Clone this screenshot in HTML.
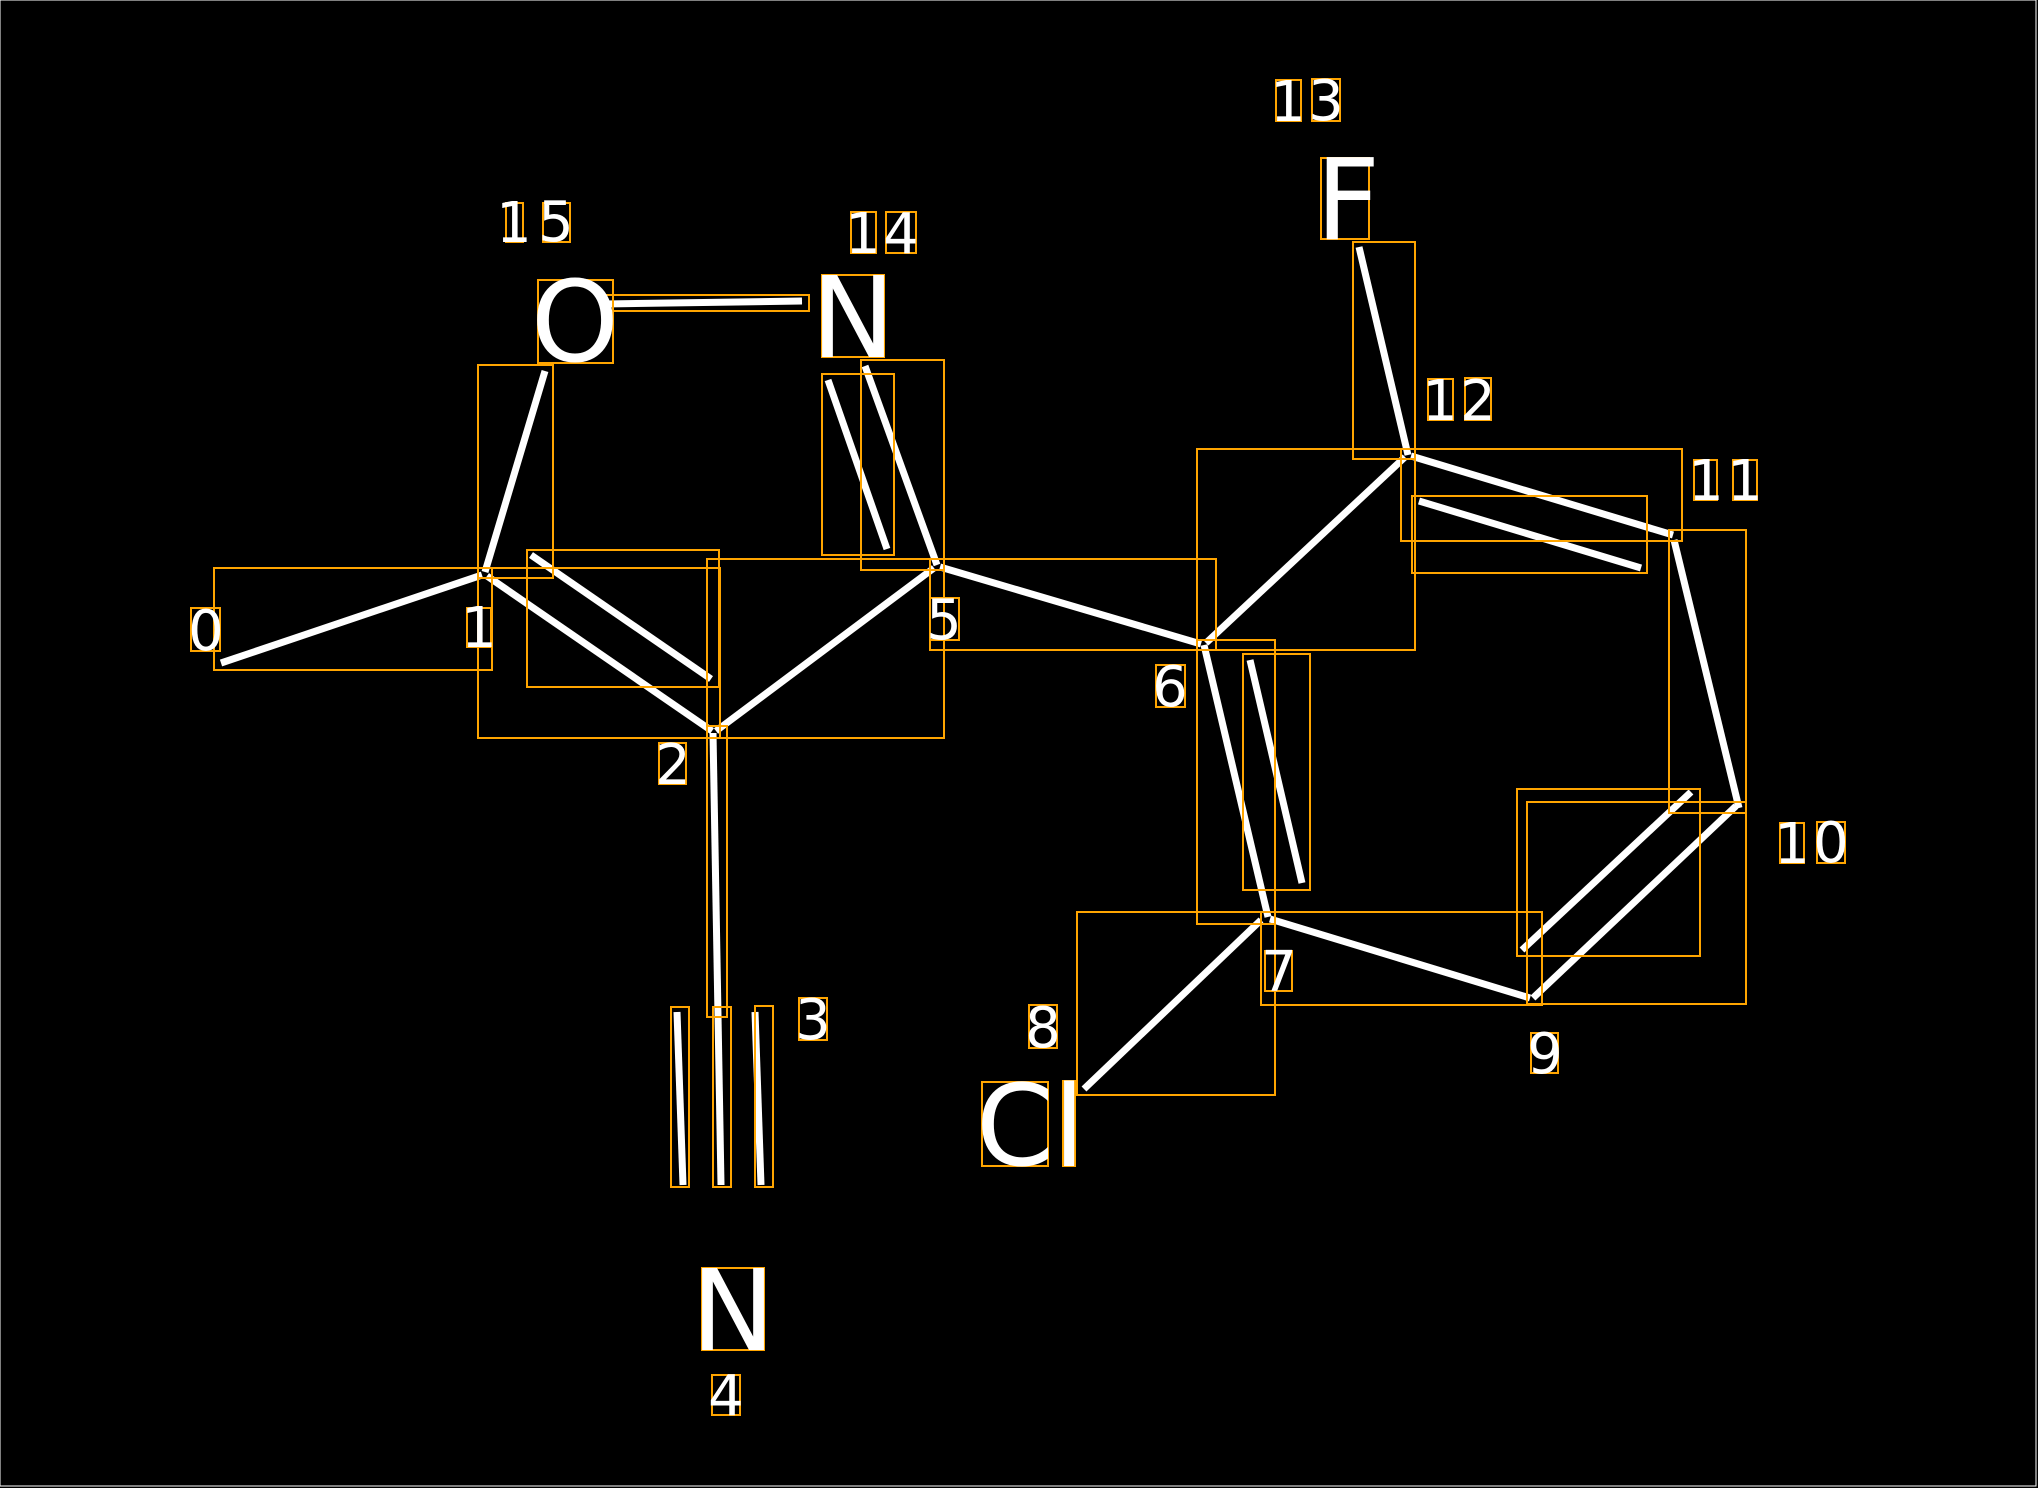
<!DOCTYPE html>
<html><head><meta charset="utf-8"><style>
html,body{margin:0;padding:0;background:#000;}
svg{display:block;}
text{font-family:"DejaVu Sans","Liberation Sans",sans-serif;fill:#fff;text-anchor:middle;}
.b{stroke:#fff;stroke-width:7;fill:none;}
.r{stroke:#FFA500;stroke-width:2;fill:none;}
</style></head><body>
<svg width="2038" height="1488" viewBox="0 0 2038 1488" xmlns="http://www.w3.org/2000/svg">
<rect x="0" y="0" width="2036" height="1486" fill="#000" stroke="#fff" stroke-width="1"/>
<!-- bonds -->
<g class="b">
<line x1="221" y1="663" x2="482" y2="575"/>
<line x1="485" y1="572" x2="545" y2="371"/>
<line x1="487" y1="576" x2="712" y2="731"/>
<line x1="531" y1="555" x2="711" y2="679"/>
<line x1="716" y1="731" x2="934" y2="568"/>
<line x1="605" y1="304" x2="802" y2="301"/>
<line x1="865" y1="366" x2="937" y2="565"/>
<line x1="828" y1="380" x2="887" y2="549"/>
<line x1="713" y1="733" x2="721" y2="1185"/>
<line x1="677" y1="1012" x2="683" y2="1185"/>
<line x1="755" y1="1012" x2="761" y2="1185"/>
<line x1="940" y1="567" x2="1201" y2="644"/>
<line x1="1206" y1="643" x2="1405" y2="457"/>
<line x1="1359" y1="247" x2="1408" y2="455"/>
<line x1="1411" y1="456" x2="1673" y2="535"/>
<line x1="1419" y1="501" x2="1641" y2="568"/>
<line x1="1674" y1="540" x2="1739" y2="808"/>
<line x1="1736" y1="806" x2="1533" y2="998"/>
<line x1="1691" y1="792" x2="1522" y2="950"/>
<line x1="1270" y1="919" x2="1530" y2="998"/>
<line x1="1204" y1="645" x2="1268" y2="917"/>
<line x1="1250" y1="660" x2="1302" y2="883"/>
<line x1="1261" y1="920" x2="1084" y2="1089"/>
</g>
<!-- boxes -->
<g class="r">
<rect x="214" y="568" width="278" height="102"/>
<rect x="478" y="365" width="75" height="213"/>
<rect x="478" y="568" width="242" height="170"/>
<rect x="527" y="550" width="192" height="137"/>
<rect x="707" y="559" width="237" height="179"/>
<rect x="602" y="295" width="207" height="16"/>
<rect x="822" y="374" width="72" height="181"/>
<rect x="861" y="360" width="83" height="210"/>
<rect x="707" y="726" width="20" height="291"/>
<rect x="671" y="1007" width="18" height="180"/>
<rect x="713" y="1007" width="18" height="180"/>
<rect x="755" y="1006" width="18" height="181"/>
<rect x="930" y="559" width="286" height="91"/>
<rect x="1197" y="449" width="218" height="201"/>
<rect x="1353" y="242" width="62" height="217"/>
<rect x="1401" y="449" width="281" height="92"/>
<rect x="1412" y="496" width="235" height="77"/>
<rect x="1669" y="530" width="77" height="283"/>
<rect x="1527" y="802" width="219" height="202"/>
<rect x="1517" y="789" width="183" height="167"/>
<rect x="1261" y="912" width="281" height="93"/>
<rect x="1197" y="640" width="78" height="284"/>
<rect x="1243" y="654" width="67" height="236"/>
<rect x="1077" y="912" width="198" height="183"/>
<!-- label boxes -->
<rect x="191" y="608" width="29" height="43"/>
<rect x="467" y="608" width="24" height="39"/>
<rect x="659" y="743" width="27" height="41"/>
<rect x="799" y="998" width="28" height="42"/>
<rect x="712" y="1375" width="28" height="40"/>
<rect x="930" y="598" width="29" height="42"/>
<rect x="1156" y="665" width="29" height="42"/>
<rect x="1265" y="951" width="27" height="40"/>
<rect x="1029" y="1005" width="28" height="43"/>
<rect x="1531" y="1033" width="27" height="40"/>
<rect x="1780" y="823" width="24" height="40"/>
<rect x="1817" y="822" width="28" height="41"/>
<rect x="1694" y="460" width="23" height="40"/>
<rect x="1733" y="460" width="24" height="40"/>
<rect x="1428" y="379" width="25" height="41"/>
<rect x="1465" y="378" width="26" height="42"/>
<rect x="1276" y="80" width="25" height="41"/>
<rect x="1312" y="79" width="28" height="42"/>
<rect x="851" y="212" width="25" height="41"/>
<rect x="886" y="212" width="30" height="41"/>
<rect x="506" y="203" width="17" height="39"/>
<rect x="543" y="203" width="27" height="39"/>
<!-- atom boxes -->
<rect x="538" y="280" width="75" height="83"/>
<rect x="822" y="275" width="62" height="82"/>
<rect x="1321" y="158" width="48" height="81"/>
<rect x="702" y="1268" width="62" height="82"/>
<rect x="982" y="1082" width="66" height="84"/>
<rect x="1063" y="1081" width="12" height="85"/>
</g>
<!-- labels -->
<g font-size="56">
<text x="206" y="650">0</text>
<text x="479" y="647">1</text>
<text x="673" y="784">2</text>
<text x="813" y="1039">3</text>
<text x="726" y="1415">4</text>
<text x="944" y="639">5</text>
<text x="1170" y="706">6</text>
<text x="1279" y="991">7</text>
<text x="1043" y="1047">8</text>
<text x="1545" y="1073">9</text>
<text x="1792" y="863">1</text>
<text x="1831" y="862">0</text>
<text x="1706" y="500">1</text>
<text x="1745" y="500">1</text>
<text x="1440" y="420">1</text>
<text x="1478" y="420">2</text>
<text x="1288" y="121">1</text>
<text x="1326" y="120">3</text>
<text x="863" y="253">1</text>
<text x="901" y="253">4</text>
<text x="514" y="242">1</text>
<text x="556" y="241">5</text>
</g>
<g font-size="112">
<text x="575" y="361">O</text>
<text x="853" y="357">N</text>
<text x="1348" y="239">F</text>
<text x="733" y="1350">N</text>
<text x="1015" y="1165">C</text>
<text x="1069" y="1166">l</text>
</g>
</svg>
</body></html>
